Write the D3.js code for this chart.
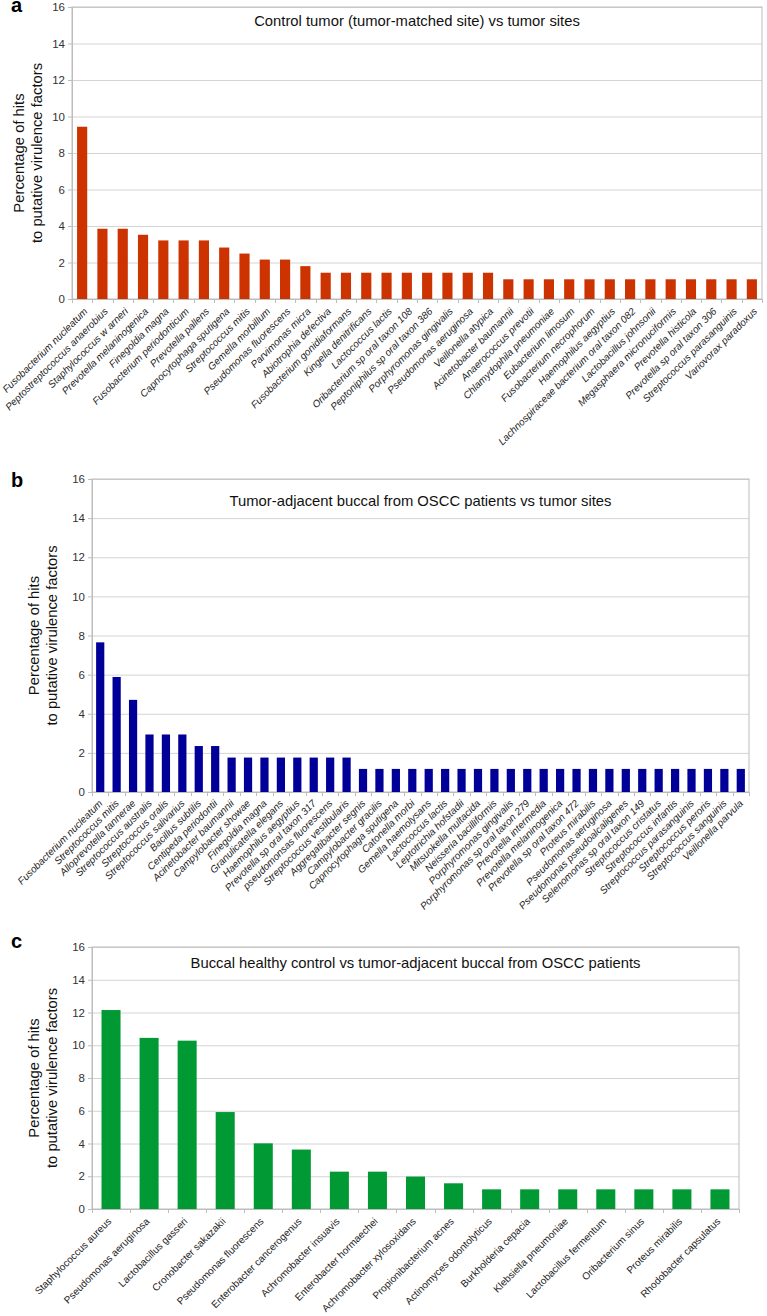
<!DOCTYPE html>
<html>
<head>
<meta charset="utf-8">
<script src="https://cdn.jsdelivr.net/npm/d3@7/dist/d3.min.js"></script>
<style>
  html, body { margin: 0; padding: 0; background: #fff; }
  svg { display: block; font-family: "Liberation Sans", Arial, Helvetica, sans-serif; }
</style>
</head>
<body>
<svg id="chart" width="767" height="1316"></svg>
<script>
// ---------- DATA ----------
const yTicks = [0, 2, 4, 6, 8, 10, 12, 14, 16];
const yTitle = ["Percentage of hits", "to putative virulence factors"];

const titleA = "Control tumor (tumor-matched site) vs tumor sites";
const categoriesA = [
  "Fusobacterium nucleatum", "Peptostreptococcus anaerobius", "Staphylococcus w arneri",
  "Prevotella melaninogenica", "Finegoldia magna", "Fusobacterium periodonticum",
  "Prevotella pallens", "Capnocytophaga sputigena", "Streptococcus mitis",
  "Gemella morbillum", "Pseudomonas fluorescens", "Parvimonas micra",
  "Abiotrophia defectiva", "Fusobacterium gonidiaformans", "Kingella denitrificans",
  "Lactococcus lactis", "Oribacterium sp oral taxon 108", "Peptoniphilus sp oral taxon 386",
  "Porphyromonas gingivalis", "Pseudomonas aeruginosa", "Veillonella atypica",
  "Acinetobacter baumannii", "Anaerococcus prevotii", "Chlamydophila pneumoniae",
  "Eubacterium limosum", "Fusobacterium necrophorum", "Haemophilus aegyptius",
  "Lachnospiraceae bacterium oral taxon 082", "Lactobacillus johnsonii",
  "Megasphaera micronuciformis", "Prevotella histicola", "Prevotella sp oral taxon 306",
  "Streptococcus parasanguinis", "Variovorax paradoxus"
];
const valuesA = [
  9.44, 3.85, 3.85, 3.52, 3.21, 3.21, 3.21, 2.82, 2.49, 2.16, 2.16, 1.80,
  1.44, 1.44, 1.44, 1.44, 1.44, 1.44, 1.44, 1.44, 1.44,
  1.08, 1.08, 1.08, 1.08, 1.08, 1.08, 1.08, 1.08, 1.08, 1.08, 1.08, 1.08, 1.08
];

const titleB = "Tumor-adjacent buccal from OSCC patients vs tumor sites";
const categoriesB = [
  "Fusobacterium nucleatum", "Streptococcus mitis", "Alloprevotella tannerae",
  "Streptococcus australis", "Streptococcus oralis", "Streptococcus salivarius",
  "Bacillus subtilis", "Centipeda periodontii", "Acinetobacter baumannii",
  "Campylobacter showae", "Finegoldia magna", "Granulicatella elegans",
  "Haemophilus aegyptius", "Prevotella sp oral taxon 317", "pseudomonsas fluorescens",
  "Streptococcus vestibularis", "Aggregatibacter segnis", "Campylobacter gracilis",
  "Capnocytophaga sputigena", "Catonella morbi", "Gemella haemolysans",
  "Lactococcus lactis", "Leptotrichia hofstadii", "Mitsuokella multacida",
  "Neisseria bacilliformis", "Porphyromonas gingivalis", "Porphyromonas sp oral taxon 279",
  "Prevotella intermedia", "Prevotella melaninogenica", "Prevotella sp oral taxon 472",
  "Proteus mirabilis", "Pseudomonas aeruginosa", "Pseudomonas pseudoalcaligenes",
  "Selenomonas sp oral taxon 149", "Streptococcus cristatus", "Streptococcus infantis",
  "Streptococcus parasanguinis", "Streptococcus peroris", "Streptococcus sanguinis",
  "Veillonella parvula"
];
const valuesB = [
  7.65, 5.88, 4.71, 2.94, 2.94, 2.94, 2.35, 2.35,
  1.76, 1.76, 1.76, 1.76, 1.76, 1.76, 1.76, 1.76,
  1.18, 1.18, 1.18, 1.18, 1.18, 1.18, 1.18, 1.18, 1.18, 1.18, 1.18, 1.18,
  1.18, 1.18, 1.18, 1.18, 1.18, 1.18, 1.18, 1.18, 1.18, 1.18, 1.18, 1.18
];

const titleC = "Buccal healthy control vs tumor-adjacent buccal from OSCC patients";
const categoriesC = [
  "Staphylococcus aureus", "Pseudomonas aeruginosa", "Lactobacillus gasseri",
  "Cronobacter sakazakii", "Pseudomonas fluorescens", "Enterobacter cancerogenus",
  "Achromobacter insuavis", "Enterobacter hormaechei", "Achromobacter xylosoxidans",
  "Propionibacterium acnes", "Actinomyces odontolyticus", "Burkholderia cepacia",
  "Klebsiella pneumoniae", "Lactobacillus fermentum", "Oribacterium sinus",
  "Proteus mirabilis", "Rhodobacter capsulatus"
];
const valuesC = [
  12.15, 10.45, 10.28, 5.92, 4.01, 3.63, 2.28, 2.28, 1.98, 1.57,
  1.20, 1.20, 1.20, 1.20, 1.20, 1.20, 1.20
];

// ---------- LAYOUT (not data) ----------
const panels = [
  { letter: "a", letterX: 11, letterY: 12, title: titleA, cats: categoriesA, vals: valuesA,
    left: 72, right: 762, top: 7, bottom: 299, color: "#cc3300", italic: true,
    titleY: 25.5, yt1: 24, yt2: 42, lx: 6, ly: 13 },
  { letter: "b", letterX: 11, letterY: 487, title: titleB, cats: categoriesB, vals: valuesB,
    left: 92, right: 749, top: 479, bottom: 792, color: "#000099", italic: true,
    titleY: 505.5, yt1: 39, yt2: 57, lx: 3, ly: 12 },
  { letter: "c", letterX: 11, letterY: 948, title: titleC, cats: categoriesC, vals: valuesC,
    left: 92, right: 739, top: 947, bottom: 1209, color: "#009933", italic: false,
    titleY: 968, yt1: 39, yt2: 57, lx: 1, ly: 13 }
];

const svg = d3.select("#chart");
svg.append("rect").attr("width", 767).attr("height", 1316).attr("fill", "#fff");

const gridColor = "#d4d4d4";
const axisColor = "#bdbdbd";

panels.forEach(p => {
  const g = svg.append("g");
  const x = d3.scaleBand().domain(p.cats).range([p.left, p.right])
    .paddingInner(0.5).paddingOuter(0.25);
  const y = d3.scaleLinear().domain([0, 16]).range([p.bottom, p.top]);
  const w = p.right - p.left;

  // gridlines
  const grid = g.append("g").attr("transform", `translate(${p.left},0)`)
    .call(d3.axisLeft(y).tickValues(yTicks).tickSize(-w).tickFormat(""));
  grid.select(".domain").remove();
  grid.selectAll("line").attr("stroke", gridColor).attr("stroke-width", 1);

  // frame
  g.append("rect").attr("x", p.left).attr("y", p.top).attr("width", w)
    .attr("height", p.bottom - p.top).attr("fill", "none")
    .attr("stroke", axisColor).attr("stroke-width", 1);

  // y axis with labels
  const ya = g.append("g").attr("transform", `translate(${p.left},0)`)
    .call(d3.axisLeft(y).tickValues(yTicks).tickSize(4).tickPadding(3));
  ya.select(".domain").attr("stroke", axisColor);
  ya.selectAll("line").attr("stroke", axisColor);
  ya.selectAll("text").attr("font-size", 11.5).attr("fill", "#333")
    .attr("font-family", "'Liberation Sans', Arial, sans-serif");

  // bars
  g.append("g").selectAll("rect").data(p.cats).join("rect")
    .attr("x", d => x(d))
    .attr("width", x.bandwidth())
    .attr("y", (d, i) => y(p.vals[i]))
    .attr("height", (d, i) => y(0) - y(p.vals[i]))
    .attr("fill", p.color);

  // x axis baseline and boundary ticks
  g.append("line").attr("x1", p.left).attr("x2", p.right)
    .attr("y1", p.bottom + 0.5).attr("y2", p.bottom + 0.5).attr("stroke", axisColor);
  const bounds = d3.range(p.cats.length + 1).map(i => x.range()[0] + i * x.step());
  g.append("g").selectAll("line").data(bounds).join("line")
    .attr("x1", d => Math.round(d) + 0.5).attr("x2", d => Math.round(d) + 0.5)
    .attr("y1", p.bottom).attr("y2", p.bottom + 4)
    .attr("stroke", axisColor);

  // category labels
  g.append("g").selectAll("text").data(p.cats).join("text")
    .attr("transform", d => `translate(${x(d) + x.bandwidth() / 2 + p.lx},${p.bottom + p.ly}) rotate(-45)`)
    .attr("text-anchor", "end")
    .attr("font-size", 10)
    .attr("font-style", p.italic ? "italic" : "normal")
    .attr("fill", "#222")
    .text(d => d);

  // title
  g.append("text").attr("x", (p.left + p.right) / 2).attr("y", p.titleY)
    .attr("text-anchor", "middle").attr("font-size", 14.8).attr("fill", "#111")
    .text(p.title);

  // y axis title
  const cy = (p.top + p.bottom) / 2;
  [p.yt1, p.yt2].forEach((bx, i) => {
    g.append("text").attr("transform", `translate(${bx},${cy}) rotate(-90)`)
      .attr("text-anchor", "middle").attr("font-size", 14.8).attr("fill", "#111")
      .text(yTitle[i]);
  });

  // panel letter
  g.append("text").attr("x", p.letterX).attr("y", p.letterY)
    .attr("font-size", 20).attr("font-weight", "bold").attr("fill", "#000")
    .text(p.letter);
});
</script>
</body>
</html>
